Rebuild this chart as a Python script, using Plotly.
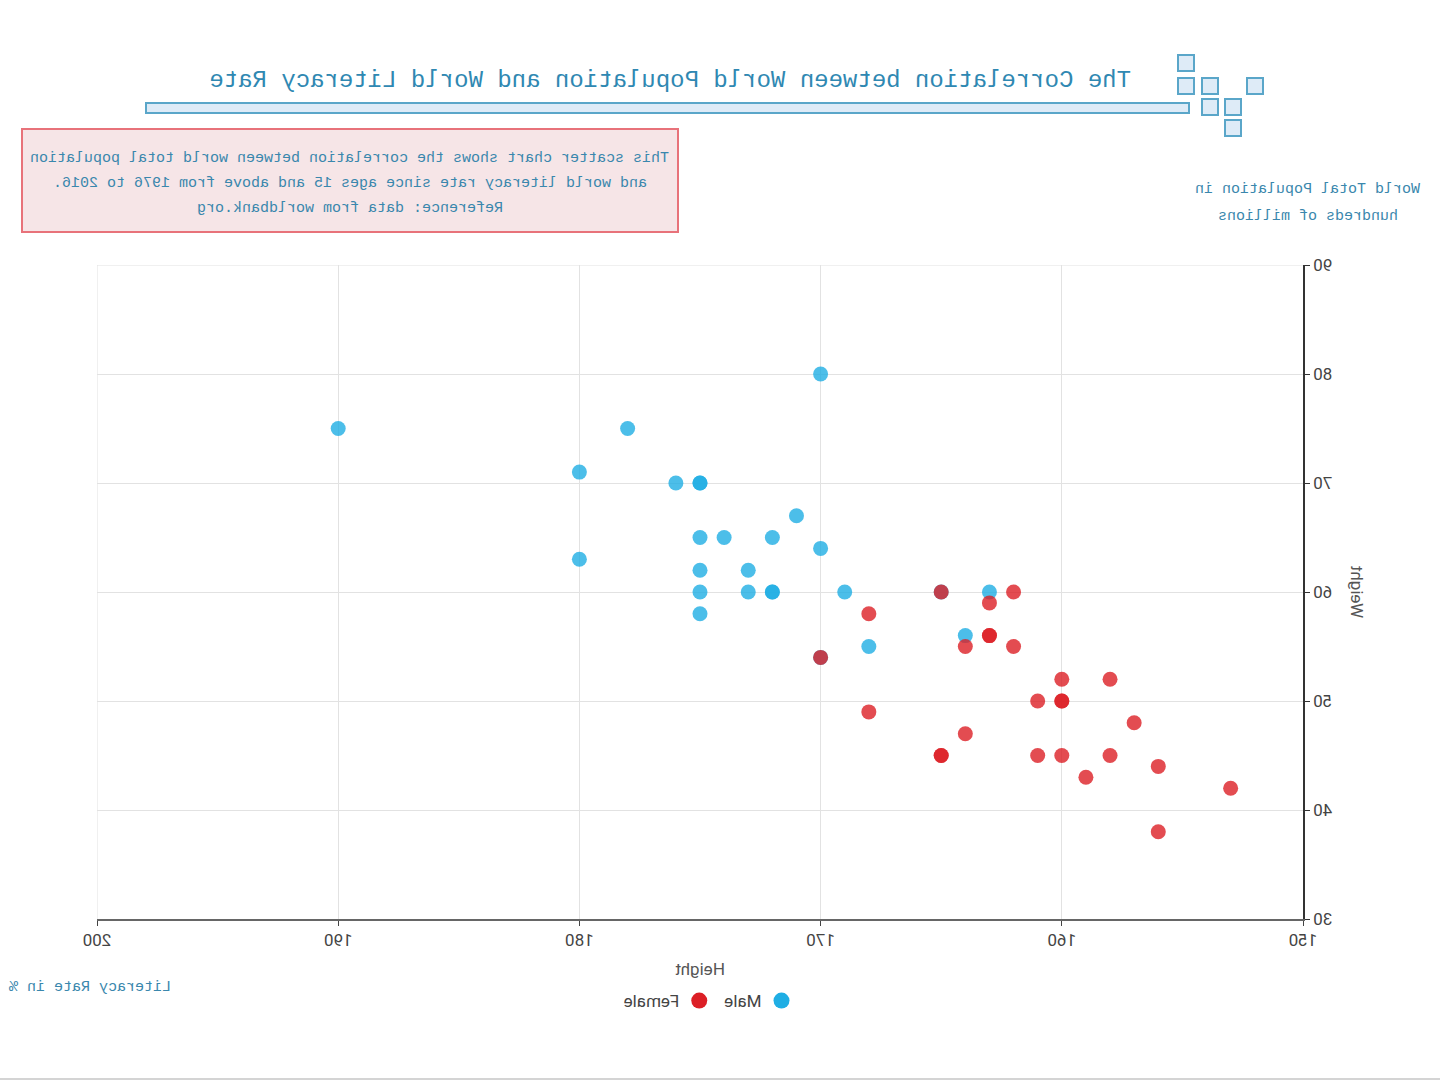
import plotly.graph_objects as go

# ---------------- data ----------------
male_height = [190, 170, 178, 180, 176, 175, 175, 171, 175, 174, 172, 170, 180,
               175, 173, 175, 173, 172, 172, 169, 163, 175, 164, 168, 165, 170]
male_weight = [75, 80, 75, 71, 70, 70, 70, 67, 65, 65, 65, 64, 63,
               62, 62, 60, 60, 60, 60, 60, 60, 58, 56, 55, 60, 54]

female_height = [165, 162, 163, 168, 163, 163, 164, 162, 170, 160, 158, 161, 160,
                 160, 168, 157, 164, 165, 165, 161, 160, 158, 156, 159, 153, 156]
female_weight = [60, 60, 59, 58, 56, 56, 55, 55, 54, 52, 52, 50, 50,
                 50, 49, 48, 47, 45, 45, 45, 45, 45, 44, 43, 42, 38]

x_ticks = [150, 160, 170, 180, 190, 200]
y_ticks = [30, 40, 50, 60, 70, 80, 90]

series_names = ["Male", "Female"]
series_colors = ["#1faee4", "#dc1f26"]

title_text = "The Correlation between World Population and World Literacy Rate"
note_lines = ["This scatter chart shows the correlation between world total population",
              "and world literacy rate since ages 15 and above from 1976 to 2016.",
              "Reference: data from worldbank.org"]
left_note_lines = ["World Total Population in", "hundreds of millions"]
bottom_note = "Literacy Rate in %"

# ---------------- layout helpers (pixel -> paper) ----------------
W, H = 1440, 1080
L, R, T, B = 137, 97, 265, 161
PW, PH = W - L - R, H - T - B


def px(x):
    return (x - L) / PW


def py(y):
    return (H - B - y) / PH


MONO = "Liberation Mono, DejaVu Sans Mono, monospace"
TEAL = "#2f88b2"
NOTE_COLOR = "#3a87ad"
BOX_LINE = "#5aa6c9"
BOX_FILL = "#deebf7"
GRID = "#e2e2e2"

fig = go.Figure()
for name, xs, ys, col in zip(series_names, [male_height, female_height],
                             [male_weight, female_weight], series_colors):
    fig.add_trace(go.Scatter(
        x=xs, y=ys, mode="markers", name=name, legendgroup=name, showlegend=False,
        marker=dict(size=15, color=col, opacity=0.8, line=dict(width=0)),
    ))
# legend entries (solid symbols as in the original legend)
for name, col in zip(series_names, series_colors):
    fig.add_trace(go.Scatter(
        x=[None], y=[None], mode="markers", name=name, legendgroup=name, showlegend=True,
        marker=dict(size=18, color=col, line=dict(width=0)),
    ))

shapes = []
# edge grid lines (top and far side of the plot area)
shapes.append(dict(type="line", xref="x", yref="y", x0=x_ticks[0], x1=x_ticks[-1],
                   y0=y_ticks[-1], y1=y_ticks[-1], line=dict(color=GRID, width=1), layer="below"))
shapes.append(dict(type="line", xref="x", yref="y", x0=x_ticks[-1], x1=x_ticks[-1],
                   y0=y_ticks[0], y1=y_ticks[-1], line=dict(color=GRID, width=1), layer="below"))
# title bar
shapes.append(dict(type="rect", xref="paper", yref="paper",
                   x0=px(251), x1=px(1294), y0=py(113), y1=py(103),
                   line=dict(color=BOX_LINE, width=2), fillcolor=BOX_FILL, layer="above"))
# decorative squares (centres in pixels)
square_centres = [(254, 63), (254, 86), (230, 86), (185, 86), (230, 107), (207, 107), (207, 128)]
for cx, cy in square_centres:
    shapes.append(dict(type="rect", xref="paper", yref="paper",
                       x0=px(cx - 8), x1=px(cx + 8), y0=py(cy + 8), y1=py(cy - 8),
                       line=dict(color=BOX_LINE, width=2), fillcolor=BOX_FILL, layer="above"))
# note box
shapes.append(dict(type="rect", xref="paper", yref="paper",
                   x0=px(762), x1=px(1418), y0=py(232), y1=py(129),
                   line=dict(color="#e8727a", width=2), fillcolor="#f6e5e7", layer="below"))
# bottom page line
shapes.append(dict(type="line", xref="paper", yref="paper",
                   x0=px(0), x1=px(W), y0=py(1079), y1=py(1079),
                   line=dict(color="#d4d4d4", width=2)))

annotations = [
    dict(text=title_text, xref="paper", yref="paper", x=px(770), y=py(80),
         xanchor="center", yanchor="middle", showarrow=False,
         font=dict(family=MONO, size=24, color=TEAL)),
    dict(text=bottom_note, xref="paper", yref="paper", x=px(1350), y=py(987),
         xanchor="center", yanchor="middle", showarrow=False,
         font=dict(family=MONO, size=15, color=NOTE_COLOR)),
]
for line, yy in zip(note_lines, [158, 183, 209]):
    annotations.append(dict(text=line, xref="paper", yref="paper", x=px(1090), y=py(yy),
                            xanchor="center", yanchor="middle", showarrow=False,
                            font=dict(family=MONO, size=15, color=NOTE_COLOR)))
for line, yy in zip(left_note_lines, [190, 216]):
    annotations.append(dict(text=line, xref="paper", yref="paper", x=px(132), y=py(yy),
                            xanchor="center", yanchor="middle", showarrow=False,
                            font=dict(family=MONO, size=15, color=NOTE_COLOR)))

fig.update_layout(
    width=W, height=H,
    margin=dict(l=L, r=R, t=T, b=B),
    paper_bgcolor="white", plot_bgcolor="white",
    font=dict(family="Roboto, Noto Sans, sans-serif", size=16, color="#555"),
    showlegend=True,
    legend=dict(orientation="h", x=px(730), xanchor="center", y=py(983), yanchor="top",
                font=dict(size=17, color="#444"), itemsizing="trace"),
    shapes=shapes,
    annotations=annotations,
    xaxis=dict(range=[150, 200], tickvals=x_ticks, showgrid=True, gridcolor=GRID,
               gridwidth=1, zeroline=False, showline=True, linecolor="#666", linewidth=2,
               ticks="outside", ticklen=5, tickcolor="#444",
               tickfont=dict(size=17, color="#444"),
               title=dict(text="Height", standoff=14, font=dict(size=17, color="#555"))),
    yaxis=dict(range=[30, 90], tickvals=y_ticks, showgrid=True, gridcolor=GRID,
               gridwidth=1, zeroline=False, showline=True, linecolor="#333", linewidth=1.5,
               ticks="outside", ticklen=5, tickcolor="#333",
               tickfont=dict(size=17, color="#444"),
               title=dict(text="Weight", standoff=14, font=dict(size=17, color="#555"))),
)

post = ("document.body.style.margin='0';"
        "var g=document.getElementById('{plot_id}');"
        "g.style.transform='scaleX(-1)';g.style.transformOrigin='50% 50%';")
fig.write_html("out.html", post_script=post, config={"displayModeBar": False})
